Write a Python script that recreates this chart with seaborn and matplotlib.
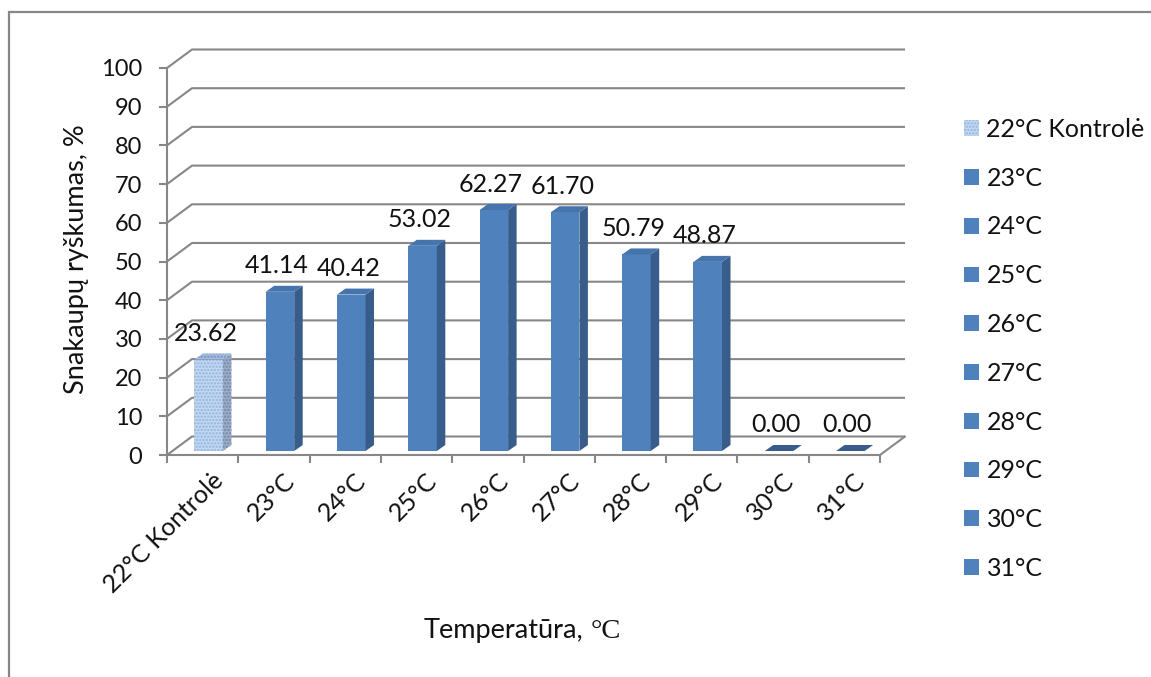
import numpy as np
import pandas as pd
import matplotlib
matplotlib.use("Agg")
import matplotlib.pyplot as plt
import matplotlib.transforms as mtransforms
from matplotlib.patches import Polygon, Rectangle, Patch
import seaborn as sns

# ---- data -------------------------------------------------------------
categories = ["22°C Kontrolė", "23°C", "24°C", "25°C", "26°C",
              "27°C", "28°C", "29°C", "30°C", "31°C"]
values = [23.62, 41.14, 40.42, 53.02, 62.27, 61.70, 50.79, 48.87, 0.00, 0.00]
y_ticks = [0, 10, 20, 30, 40, 50, 60, 70, 80, 90, 100]

# ---- style --------------------------------------------------------------
sns.set_theme(style="white")
plt.rcParams["font.family"] = ["Lato", "DejaVu Sans"]
plt.rcParams["hatch.linewidth"] = 1.2

BLUE_FRONT = "#4f81bd"
BLUE_SIDE = "#385d8a"
BLUE_TOP = "#4674ad"
CTRL_FACE = "#c6d9f0"
CTRL_DOTS = "#8eb4e3"
CTRL_SIDE_FACE = "#9fb0c8"
CTRL_SIDE_DOTS = "#6f86a8"
GRAY = "#878787"
TEXT = "#111111"
FS = 18          # labels, legend
FS_TICK = 17     # axis numbers
FS_TITLE = 19.5  # axis titles

W, H, DPI = 1151, 677, 100
fig = plt.figure(figsize=(W / DPI, H / DPI), dpi=DPI)
fig.patch.set_facecolor("white")

# front plane of the box, in pixels
L, R, T, B = 167, 880, 68, 455
ax = fig.add_axes([L / W, 1 - B / H, (R - L) / W, (B - T) / H])
ax.set_facecolor("none")

n = len(categories)
ux = (R - L) / n          # pixels per category
uy = (B - T) / 100.0      # pixels per percent


def depth(px_x, px_y):
    """Convert a pixel displacement into data units."""
    return px_x / ux, px_y / uy


def shift(px_x, px_y):
    return ax.transData + mtransforms.ScaledTranslation(
        px_x / DPI, px_y / DPI, fig.dpi_scale_trans)


# ---- bars ---------------------------------------------------------------
df = pd.DataFrame({"Temperatūra": categories, "Reikšmė": values})
palette = {c: BLUE_FRONT for c in categories}
palette[categories[0]] = CTRL_FACE
sns.barplot(data=df, x="Temperatūra", y="Reikšmė", hue="Temperatūra",
            palette=palette, width=0.4, saturation=1, legend=False,
            ax=ax, zorder=4)
bars = list(ax.patches)

bar_off = (6, 4)                    # front face sits a little inside the box
side_dx, side_dy = depth(8.5, 6)    # bar depth
bar_tr = shift(*bar_off)

for i, p in enumerate(bars):
    p.set_transform(bar_tr)
    p.set_clip_on(False)
    x0, w, h = p.get_x(), p.get_width(), p.get_height()
    if i == 0:
        p.set_facecolor(CTRL_FACE)
        p.set_edgecolor(CTRL_DOTS)
        p.set_hatch(".....")
        p.set_linewidth(0)
        side_kw = dict(facecolor=CTRL_SIDE_FACE, edgecolor=CTRL_SIDE_DOTS,
                       hatch=".....", linewidth=0)
        top_kw = dict(facecolor="#a9c0e0", edgecolor="#6f8fbf",
                      hatch=".....", linewidth=0)
    else:
        p.set_edgecolor("none")
        side_kw = dict(facecolor=BLUE_SIDE, edgecolor="none")
        top_kw = dict(facecolor=BLUE_TOP if h > 0 else BLUE_SIDE,
                      edgecolor="none")
    side = Polygon([(x0 + w, 0), (x0 + w, h), (x0 + w + side_dx, h + side_dy),
                    (x0 + w + side_dx, side_dy)], closed=True,
                   transform=bar_tr, zorder=4, clip_on=False, **side_kw)
    top = Polygon([(x0, h), (x0 + w, h), (x0 + w + side_dx, h + side_dy),
                   (x0 + side_dx, h + side_dy)], closed=True,
                  transform=bar_tr, zorder=4, clip_on=False, **top_kw)
    ax.add_patch(side)
    ax.add_patch(top)

# ---- walls, floor and gridlines -----------------------------------------
back_dx, back_dy = depth(25, 18.5)
x_lo, x_hi = -0.5, n - 0.5
for t in y_ticks:
    ax.plot([x_lo, x_lo + back_dx, x_hi + back_dx], [t, t + back_dy, t + back_dy],
            color=GRAY, lw=1.5, clip_on=False, zorder=1,
            solid_capstyle="butt")
ax.plot([x_hi, x_hi + back_dx], [0, back_dy], color=GRAY, lw=1.5,
        clip_on=False, zorder=1)

ax.set_xlim(x_lo, x_hi)
ax.set_ylim(0, 100)

for s in ["top", "right"]:
    ax.spines[s].set_visible(False)
for s in ["left", "bottom"]:
    ax.spines[s].set_color(GRAY)
    ax.spines[s].set_linewidth(1.5)
    ax.spines[s].set_zorder(2)

ax.set_yticks(y_ticks)
ax.set_yticklabels([str(t) for t in y_ticks])
ax.tick_params(axis="y", which="major", direction="out", length=5.8,
               width=1.5, color=GRAY, pad=12, labelsize=FS_TICK,
               labelcolor=TEXT, left=True)

ax.set_xticks(np.arange(n))
ax.set_xticks(np.arange(n + 1) - 0.5, minor=True)
ax.set_xticklabels(categories, rotation=45, ha="right",
                   rotation_mode="anchor")
ax.tick_params(axis="x", which="major", length=0, pad=10, labelsize=FS,
               labelcolor=TEXT, bottom=True)
ax.tick_params(axis="x", which="minor", direction="out", length=5.8,
               width=1.5, color=GRAY, bottom=True)
lab_shift = mtransforms.ScaledTranslation(9 / DPI, 0, fig.dpi_scale_trans)
for lab in ax.get_xticklabels():
    lab.set_transform(lab.get_transform() + lab_shift)

ax.set_xlabel("")
ax.set_ylabel("")

# ---- value labels ------------------------------------------------------
for i, v in enumerate(values):
    ax.annotate(f"{v:.2f}", xy=(i, v), xytext=(3 * 0.72, 30 * 0.72),
                textcoords="offset points", ha="center", va="center",
                fontsize=FS, color=TEXT, zorder=6, annotation_clip=False)

# ---- axis titles ------------------------------------------------------
fig.text(77 / W, 1 - 259 / H, "Snakaupų ryškumas, %", rotation=90,
         ha="center", va="center", fontsize=FS_TITLE, color=TEXT)
fig.text(583 / W, 1 - 638 / H, "Temperatūra,", ha="right", va="baseline",
         fontsize=FS_TITLE, color=TEXT)
fig.text(591 / W, 1 - 638 / H, "°C", ha="left", va="baseline",
         fontsize=FS_TITLE + 1, color=TEXT, family="Liberation Serif")

# ---- legend -----------------------------------------------------------
handles = [Patch(facecolor=CTRL_FACE, edgecolor=CTRL_DOTS, hatch=".....",
                 linewidth=0)]
handles += [Patch(facecolor=BLUE_FRONT, edgecolor="none") for _ in categories[1:]]
fig.legend(handles, categories, loc="upper left",
           bbox_to_anchor=(964 / W, 1 - 118 / H), frameon=False,
           fontsize=FS, handlelength=0.6, handleheight=0.6,
           handletextpad=0.3, labelspacing=1.03, borderpad=0,
           borderaxespad=0, labelcolor=TEXT)

# ---- outer chart frame ----------------------------------------------------
fig.add_artist(Rectangle((9 / W, -0.2), 2, 1.2 - 12 / H, fill=False,
                         edgecolor=GRAY, linewidth=1.6,
                         transform=fig.transFigure))

fig.savefig("out.png", dpi=DPI)
